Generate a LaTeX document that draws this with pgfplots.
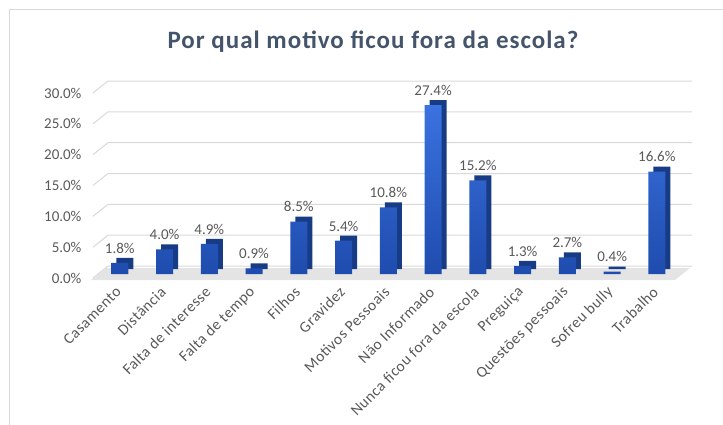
\documentclass[border=0pt]{standalone}
\usepackage{pgfplots}
\pgfplotsset{compat=1.18}
\usepackage{fontspec}
\setmainfont{Carlito}
\definecolor{titlec}{HTML}{44546A}
\definecolor{tickc}{HTML}{595959}
\definecolor{gridc}{HTML}{D9D9D9}
\definecolor{barlight}{HTML}{3A72E0}
\definecolor{bardark}{HTML}{1F4CAE}
\definecolor{barside}{HTML}{173B85}
\definecolor{floorc}{HTML}{E4E4E4}
\begin{document}
\begin{tikzpicture}[x=1pt,y=1pt]
\useasboundingbox (0,0) rectangle (723,-425);
\draw[gridc,line width=1pt] (9,-425) -- (9,-10) -- (723,-10);
\node[font=\fontsize{25}{28}\selectfont\bfseries\addfontfeatures{LetterSpace=4},text=titlec] at (373,-42) {Por qual motivo ficou fora da escola?};
\begin{axis}[
  at={(93pt,-278pt)}, anchor=south west,
  scale only axis, width=584pt, height=185pt,
  xmin=-0.6, xmax=12.45, ymin=0, ymax=30,
  axis line style={draw=none},
  clip=false,
  xtick={0,...,12},
  xticklabels={Casamento,Distância,Falta de interesse,Falta de tempo,Filhos,Gravidez,Motivos Pessoais,Não Informado,Nunca ficou fora da escola,Preguiça,Questões pessoais,Sofreu bully,Trabalho},
  xticklabel style={xshift=1pt, yshift=-9pt, rotate=45, anchor=east, font=\fontsize{15.5}{18}\selectfont\addfontfeatures{LetterSpace=3}, text=tickc},
  ytick={0,5,...,30},
  yticklabel={\pgfmathprintnumber[fixed,fixed zerofill,precision=1]{\tick}\%},
  yticklabel style={font=\fontsize{15}{17}\selectfont, text=tickc, xshift=-8pt},
  /pgf/number format/assume math mode=true,
  major tick length=0pt,
  ybar,
]
\pgfplotsinvokeforeach{0,5,10,15,20,25,30}{
  \draw[gridc,line width=1pt] (axis cs:-0.6,#1) -- ++(15pt,12pt) -- ([xshift=15pt,yshift=12pt]axis cs:12.45,#1);
}
\fill[floorc] ([xshift=-2pt,yshift=-2pt]axis cs:-0.6,0) -- ([xshift=-2pt,yshift=-2pt]axis cs:12.45,0) -- ([xshift=13pt,yshift=10pt]axis cs:12.45,0) -- ([xshift=13pt,yshift=10pt]axis cs:-0.6,0) -- cycle;
\addplot[bar width=17pt, bar shift=5pt, yshift=9pt, fill=barside, draw=none] coordinates {
(0,1.8) (1,4.0) (2,4.9) (3,0.9) (4,8.5) (5,5.4) (6,10.8) (7,27.4) (8,15.2) (9,1.3) (10,2.7) (11,0.4) (12,16.6)};
\addplot[bar width=17pt, bar shift=0pt, yshift=4pt, top color=barlight, bottom color=bardark, draw=none,
  nodes near coords={\pgfmathprintnumber[fixed,fixed zerofill,precision=1]{\pgfplotspointmeta}\%},
  every node near coord/.append style={font=\fontsize{15}{17}\selectfont, text=tickc, yshift=6pt}] coordinates {
(0,1.8) (1,4.0) (2,4.9) (3,0.9) (4,8.5) (5,5.4) (6,10.8) (7,27.4) (8,15.2) (9,1.3) (10,2.7) (11,0.4) (12,16.6)};
\end{axis}
\end{tikzpicture}
\end{document}
